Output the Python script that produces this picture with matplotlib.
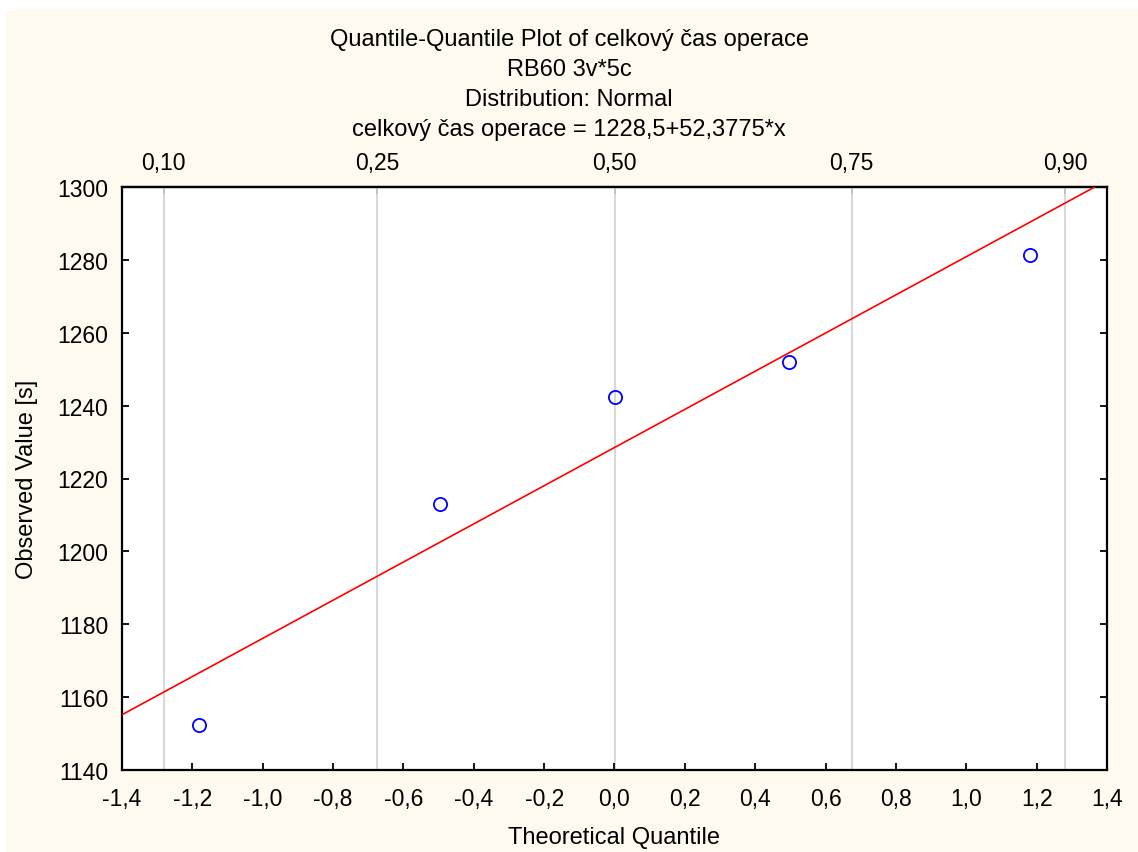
import matplotlib.pyplot as plt
import numpy as np
from matplotlib.patches import Rectangle
from matplotlib.ticker import FuncFormatter

plt.rcParams["font.family"] = ["Liberation Sans", "DejaVu Sans"]

# theoretical quantiles (normal scores) and observed times
theoretical = [-1.1798, -0.4972, 0.0, 0.4972, 1.1798]
observed = [1152.4, 1213.0, 1242.4, 1252.1, 1281.3]
intercept, slope = 1228.5, 52.3775

prob_labels = ["0,10", "0,25", "0,50", "0,75", "0,90"]
prob_positions = [-1.2816, -0.6745, 0.0, 0.6745, 1.2816]

title_lines = [
    "Quantile-Quantile Plot of celkový čas operace",
    "RB60 3v*5c",
    "Distribution: Normal",
    "celkový čas operace = 1228,5+52,3775*x",
]

W, H = 1138, 853
fig = plt.figure(figsize=(W / 100, H / 100), dpi=100, facecolor="white")
fig.patches.append(Rectangle((6 / W, 0), 1.0, 1 - 11 / H, transform=fig.transFigure,
                             facecolor="#fefaef", edgecolor="none", zorder=-10))

ax = fig.add_axes([122 / W, 1 - 771 / H, (1107 - 122) / W, (771 - 188) / H])
ax.set_facecolor("white")
ax.set_xlim(-1.4, 1.4)
ax.set_ylim(1140, 1300)

for p in prob_positions:
    ax.axvline(p, color="#d4d4d4", lw=1.3, zorder=1)

xx = np.array([-1.4, 1.4])
ax.plot(xx, intercept + slope * xx, color="red", lw=1.2, zorder=3)
ax.plot(theoretical, observed, "o", mfc="none", mec="blue", ms=9.5, mew=1.3, zorder=4)


def comma(v, pos):
    if abs(v) < 1e-9:
        v = 0.0
    return ("%.1f" % v).replace(".", ",")


ax.set_xticks(np.arange(-1.4, 1.41, 0.2))
ax.xaxis.set_major_formatter(FuncFormatter(comma))
ax.set_yticks(np.arange(1140, 1301, 20))
ax.tick_params(direction="in", length=5, width=1.3, labelsize=16.5, top=False, right=True,
               colors="black")
ax.tick_params(axis="x", pad=12)
ax.tick_params(axis="y", pad=10)

top = ax.secondary_xaxis("top")
top.set_xticks(prob_positions)
top.set_xticklabels(prob_labels)
top.tick_params(direction="in", length=5, width=1.3, labelsize=16.5, pad=9)

for s in ax.spines.values():
    s.set_linewidth(1.6)
top.spines["top"].set_linewidth(1.6)

ax.set_xlabel("Theoretical Quantile", fontsize=17)
ax.set_ylabel("Observed Value [s]", fontsize=17)
ax.xaxis.set_label_coords(0.5, (771 - 838) / 583)
ax.xaxis.label.set_va("center")
ax.yaxis.set_label_coords((27 - 122) / 985, 0.5)
ax.yaxis.label.set_va("center")

for i, t in enumerate(title_lines):
    fig.text(0.5, 1 - (40 + 30 * i) / H, t, ha="center", va="center", fontsize=17)

fig.savefig("out.png", dpi=100, facecolor=fig.get_facecolor())
